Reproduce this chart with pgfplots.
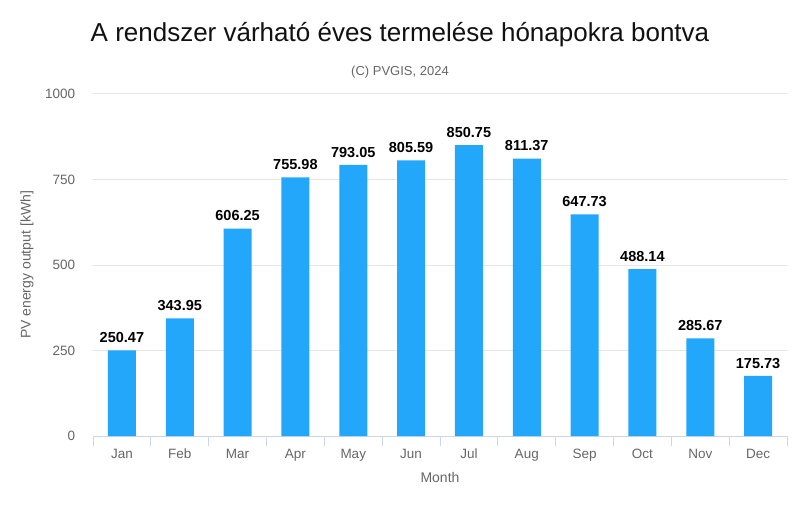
\documentclass[border=0pt]{standalone}
\usepackage{fontspec}
\setmainfont{Liberation Sans}
\usepackage{pgfplots}
\pgfplotsset{compat=1.18}
\definecolor{barblue}{HTML}{22A7FA}
\definecolor{gridgray}{HTML}{E6E6E6}
\definecolor{axisblue}{HTML}{CCD6EB}
\definecolor{labelgray}{HTML}{666666}
\definecolor{titlecol}{HTML}{111111}

\begin{document}
\begin{tikzpicture}[x=1pt,y=1pt]
  \useasboundingbox (0,0) rectangle (800,504);
  \begin{axis}[
    at={(93pt,68pt)}, anchor=south west,
    scale only axis, width=694pt, height=342pt,
    xmin=-0.5, xmax=11.5, ymin=0, ymax=1000,
    axis x line*=bottom, axis y line*=left,
    x axis line style={draw=axisblue, line width=1pt},
    y axis line style={draw=none},
    ytick={0,250,500,750,1000},
    ymajorgrids, grid style={draw=gridgray, line width=1pt},
    major y tick style={draw=none},
    xtick={0,...,11},
    xticklabels={Jan,Feb,Mar,Apr,May,Jun,Jul,Aug,Sep,Oct,Nov,Dec},
    major x tick style={draw=none},
    minor xtick={-0.5,0.5,...,11.5},
    minor x tick style={draw=axisblue, line width=1pt},
    minor tick length=10pt, tick align=outside,
    /pgf/number format/assume math mode=true,
    /pgf/number format/1000 sep={},
    ticklabel style={font=\fontsize{13.5}{13.5}\selectfont, text=labelgray},
    yticklabel style={xshift=-10pt},
    xticklabel style={text height=10pt, text depth=3pt, yshift=-5pt},
    ybar, bar width=28pt,
    point meta=explicit symbolic,
    nodes near coords,
    nodes near coords style={font=\bfseries\fontsize{14.5}{14.5}\selectfont, text=black, yshift=4pt},
  ]
    \addplot[fill=barblue, draw=none] coordinates {
      (0,250.47) [250.47]
      (1,343.95) [343.95]
      (2,606.25) [606.25]
      (3,755.98) [755.98]
      (4,793.05) [793.05]
      (5,805.59) [805.59]
      (6,850.75) [850.75]
      (7,811.37) [811.37]
      (8,647.73) [647.73]
      (9,488.14) [488.14]
      (10,285.67) [285.67]
      (11,175.73) [175.73]
    };
  \end{axis}
  \node[font=\fontsize{26}{30}\selectfont, text=titlecol] at (400,469) {A rendszer várható éves termelése hónapokra bontva};
  \node[font=\fontsize{13}{15}\selectfont, text=labelgray] at (400,432) {(C) PVGIS, 2024};
  \node[font=\fontsize{14}{16}\selectfont, text=labelgray, rotate=90] at (27,239) {PV energy output [kWh]};
  \node[font=\fontsize{14}{16}\selectfont, text=labelgray] at (440,27) {Month};
\end{tikzpicture}
\end{document}
